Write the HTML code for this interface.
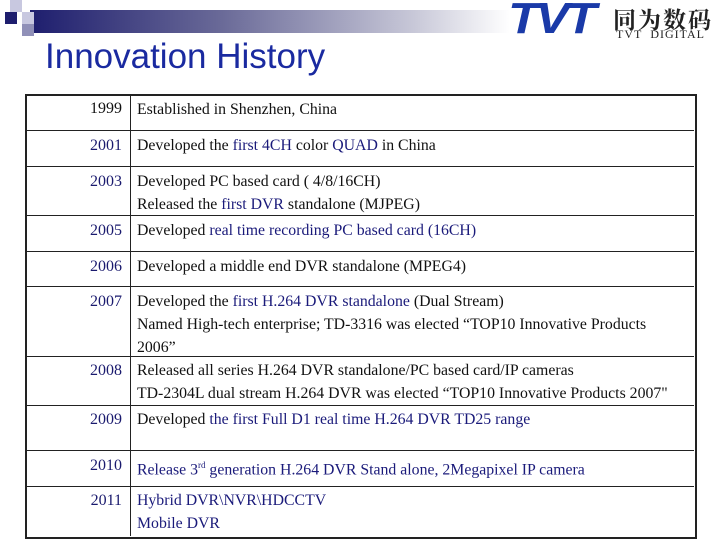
<!DOCTYPE html>
<html><head><meta charset="utf-8"><style>
body{margin:0;width:720px;height:540px;background:#fff;position:relative;overflow:hidden;font-family:"Liberation Serif",serif}
.a{position:absolute}
.row{position:absolute;left:26px;width:668px;border-top:1px solid #222}
.yr{position:absolute;left:0;width:96px;text-align:right;font-size:16px;color:#1a1a6e}
.tx{position:absolute;left:111px;font-size:15.8px;color:#111;line-height:23px;white-space:nowrap}
.b{color:#1a1a7a}
</style></head><body>
<div class="a" style="left:30px;top:10px;width:480px;height:23px;background:linear-gradient(to right,#1e1e6e,#6a6a98 40%,#c8c8d8 80%,#fff)"></div>
<div class="a" style="left:10px;top:0;width:12px;height:12px;background:#c8c8e0"></div>
<div class="a" style="left:5px;top:12px;width:12px;height:12px;background:#1e1e6e"></div>
<div class="a" style="left:22px;top:12px;width:12px;height:12px;background:#c8c8e0"></div>
<div class="a" style="left:22px;top:24px;width:12px;height:12px;background:#9090b8"></div>
<div class="a" style="left:508px;top:-6px;font:italic bold 44px 'Liberation Sans',sans-serif;color:#1a3aa8;letter-spacing:-3px;transform:scaleX(1.15);transform-origin:left">TVT</div>
<div class="a" style="left:613px;top:2px;font:bold 23px 'Noto Serif CJK SC',serif;color:#222;letter-spacing:2px">同为数码</div>
<div class="a" style="left:616px;top:27px;font:12px 'Liberation Serif',serif;color:#222;letter-spacing:1px">TVT&nbsp;&nbsp;DIGITAL</div>
<div class="a" style="left:45px;top:37px;font:35px 'Liberation Sans',sans-serif;color:#1a2aa0">Innovation History</div>
<div class="a" style="left:25px;top:94px;width:668px;height:441px;border:2px solid #222"></div>
<div class="a" style="left:130px;top:95px;width:1px;height:441px;background:#222"></div>

<div class="row" style="top:95px;border-top:none"><div class="yr" style="top:5px;color:#111">1999</div><div class="tx" style="top:3px">Established in Shenzhen, China</div></div>
<div class="row" style="top:130px"><div class="yr" style="top:6px">2001</div><div class="tx" style="top:3px">Developed the <span class="b">first 4CH</span> color <span class="b">QUAD</span> in China</div></div>
<div class="row" style="top:166px"><div class="yr" style="top:6px">2003</div><div class="tx" style="top:3px">Developed PC based card ( 4/8/16CH)<br>Released the <span class="b">first DVR</span> standalone (MJPEG)</div></div>
<div class="row" style="top:215px"><div class="yr" style="top:6px">2005</div><div class="tx" style="top:3px">Developed <span class="b">real time recording PC based card (16CH)</span></div></div>
<div class="row" style="top:251px"><div class="yr" style="top:6px">2006</div><div class="tx" style="top:3px">Developed a middle end DVR standalone (MPEG4)</div></div>
<div class="row" style="top:286px"><div class="yr" style="top:6px">2007</div><div class="tx" style="top:3px">Developed the <span class="b">first H.264 DVR standalone</span> (Dual Stream)<br>Named High-tech enterprise; TD-3316 was elected “TOP10 Innovative Products<br>2006”</div></div>
<div class="row" style="top:356px"><div class="yr" style="top:5px">2008</div><div class="tx" style="top:2px">Released all series H.264 DVR standalone/PC based card/IP cameras<br>TD-2304L dual stream H.264 DVR was elected “TOP10 Innovative Products 2007"</div></div>
<div class="row" style="top:405px"><div class="yr" style="top:5px">2009</div><div class="tx" style="top:2px">Developed <span class="b">the first Full D1 real time H.264 DVR TD25 range</span></div></div>
<div class="row" style="top:450px"><div class="yr" style="top:6px">2010</div><div class="tx b" style="top:3px">Release 3<sup style="font-size:9px">rd</sup> generation H.264 DVR Stand alone, 2Megapixel IP camera</div></div>
<div class="row" style="top:486px"><div class="yr" style="top:5px">2011</div><div class="tx b" style="top:2px">Hybrid DVR\NVR\HDCCTV<br>Mobile DVR</div></div>
</body></html>
